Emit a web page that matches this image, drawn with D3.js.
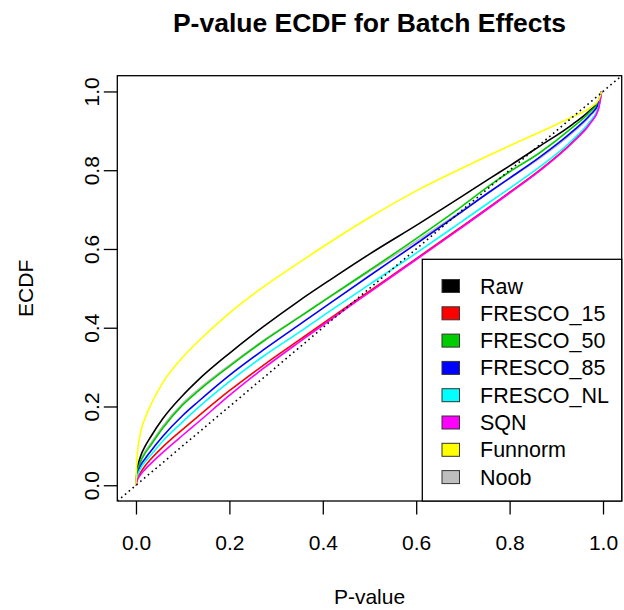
<!DOCTYPE html>
<html>
<head>
<meta charset="utf-8">
<script src="https://cdn.jsdelivr.net/npm/d3@7"></script>
<style>
  html, body { margin: 0; padding: 0; background: #ffffff; }
  svg { display: block; }
  text { font-family: "Liberation Sans", Arial, Helvetica, sans-serif; fill: #000; }
</style>
</head>
<body>
<div id="chart"></div>
<script>
// ---- data ----
const pValues = [0, 0.002, 0.01, 0.02, 0.03, 0.058, 0.1, 0.133, 0.2, 0.272, 0.35, 0.415, 0.5, 0.607, 0.692, 0.756, 0.8, 0.863, 0.934, 0.972, 0.99, 0.997];

const seriesNames = ["Raw", "FRESCO_15", "FRESCO_50", "FRESCO_85", "FRESCO_NL", "SQN", "Funnorm", "Noob"];
const seriesColors = ["#000000", "#FF0000", "#00CD00", "#0000FF", "#00FFFF", "#FF00FF", "#FFFF00", "#BEBEBE"];

const rawECDF      = [0, 0.035, 0.074, 0.100, 0.120, 0.170, 0.228, 0.267, 0.335, 0.402, 0.469, 0.521, 0.587, 0.665, 0.729, 0.778, 0.811, 0.860, 0.916, 0.952, 0.976, 1.0];
const fresco15ECDF = [0, 0.012, 0.032, 0.050, 0.064, 0.098, 0.142, 0.175, 0.240, 0.304, 0.369, 0.423, 0.493, 0.581, 0.652, 0.706, 0.744, 0.799, 0.871, 0.920, 0.956, 1.0];
const fresco50ECDF = [0, 0.026, 0.060, 0.082, 0.099, 0.146, 0.204, 0.239, 0.302, 0.365, 0.427, 0.479, 0.546, 0.632, 0.703, 0.760, 0.796, 0.843, 0.908, 0.948, 0.974, 1.0];
const fresco85ECDF = [0, 0.022, 0.050, 0.068, 0.084, 0.125, 0.177, 0.212, 0.279, 0.343, 0.408, 0.462, 0.532, 0.619, 0.690, 0.744, 0.780, 0.832, 0.898, 0.940, 0.968, 1.0];
const frescoNLECDF = [0, 0.018, 0.043, 0.060, 0.074, 0.113, 0.161, 0.197, 0.263, 0.327, 0.389, 0.442, 0.510, 0.595, 0.665, 0.718, 0.754, 0.807, 0.876, 0.924, 0.958, 1.0];
const sqnECDF      = [0, 0.010, 0.027, 0.041, 0.053, 0.084, 0.127, 0.160, 0.228, 0.296, 0.364, 0.419, 0.490, 0.579, 0.650, 0.704, 0.742, 0.797, 0.869, 0.918, 0.954, 1.0];
const funnormECDF  = [0, 0.065, 0.135, 0.172, 0.200, 0.262, 0.325, 0.365, 0.437, 0.503, 0.566, 0.617, 0.680, 0.752, 0.802, 0.838, 0.862, 0.896, 0.935, 0.958, 0.978, 1.0];
const noobECDF     = [0, 0.030, 0.064, 0.087, 0.104, 0.151, 0.208, 0.243, 0.305, 0.367, 0.428, 0.478, 0.543, 0.625, 0.692, 0.744, 0.779, 0.829, 0.894, 0.937, 0.966, 1.0];

const seriesValues = [rawECDF, fresco15ECDF, fresco50ECDF, fresco85ECDF, frescoNLECDF, sqnECDF, funnormECDF, noobECDF];
const drawOrder = [7, 0, 1, 2, 3, 4, 5, 6];

const xTicks = [0, 0.2, 0.4, 0.6, 0.8, 1.0];
const yTicks = [0, 0.2, 0.4, 0.6, 0.8, 1.0];

const titleText = "P-value ECDF for Batch Effects";
const xLabel = "P-value";
const yLabel = "ECDF";

// ---- layout ----
const W = 624, H = 610;
const plot = { left: 117.3, right: 621.7, top: 75.7, bottom: 501 };
const FS = 21;

const svg = d3.select("#chart").append("svg")
  .attr("width", W).attr("height", H)
  .style("background", "#fff");

const x = d3.scaleLinear().domain([-0.04, 1.04]).range([plot.left, plot.right]);
const y = d3.scaleLinear().domain([-0.04, 1.04]).range([plot.bottom, plot.top]);

svg.append("clipPath").attr("id", "clip")
  .append("rect")
  .attr("x", plot.left).attr("y", plot.top)
  .attr("width", plot.right - plot.left).attr("height", plot.bottom - plot.top);

const line = d3.line()
  .x(d => x(d[0]))
  .y(d => y(d[1]))
  .curve(d3.curveMonotoneX);

const g = svg.append("g").attr("clip-path", "url(#clip)");

drawOrder.forEach(i => {
  const pts = pValues.map((p, k) => [p, seriesValues[i][k]]);
  g.append("path")
    .datum(pts)
    .attr("d", line)
    .attr("fill", "none")
    .attr("stroke", seriesColors[i])
    .attr("stroke-width", 1.6);
});

// diagonal reference (abline 0,1) dotted
g.append("line")
  .attr("x1", x(-0.04)).attr("y1", y(-0.04))
  .attr("x2", x(1.04)).attr("y2", y(1.04))
  .attr("stroke", "#000")
  .attr("stroke-width", 1.6)
  .attr("stroke-dasharray", "1.6,3.4");

// box
svg.append("rect")
  .attr("x", plot.left).attr("y", plot.top)
  .attr("width", plot.right - plot.left).attr("height", plot.bottom - plot.top)
  .attr("fill", "none").attr("stroke", "#000").attr("stroke-width", 1.3);

// axes
const fmt = d3.format(".1f");
const xAxis = svg.append("g")
  .attr("transform", `translate(0,${plot.bottom})`)
  .call(d3.axisBottom(x).tickValues(xTicks).tickFormat(fmt).tickSize(13.5).tickPadding(21));
xAxis.select(".domain").remove();
xAxis.selectAll(".tick line").attr("stroke", "#000").attr("stroke-width", 1.3);
xAxis.selectAll(".tick text")
  .attr("font-size", FS)
  .attr("font-family", "Liberation Sans, Arial, sans-serif")
  .attr("fill", "#000");

const yAxis = svg.append("g")
  .attr("transform", `translate(${plot.left},0)`)
  .call(d3.axisLeft(y).tickValues(yTicks).tickFormat(fmt).tickSize(13.5));
yAxis.select(".domain").remove();
yAxis.selectAll(".tick line").attr("stroke", "#000").attr("stroke-width", 1.3);
yAxis.selectAll(".tick text")
  .attr("font-size", FS)
  .attr("font-family", "Liberation Sans, Arial, sans-serif")
  .attr("fill", "#000")
  .attr("text-anchor", "middle")
  .attr("x", 0)
  .attr("y", -18)
  .attr("dy", 0)
  .attr("transform", "rotate(-90)");

// title and labels
const cx = (plot.left + plot.right) / 2;
svg.append("text")
  .attr("x", cx).attr("y", 32)
  .attr("text-anchor", "middle")
  .attr("font-size", 26.5)
  .attr("font-weight", "bold")
  .text(titleText);

svg.append("text")
  .attr("x", cx).attr("y", 604)
  .attr("text-anchor", "middle")
  .attr("font-size", FS)
  .text(xLabel);

svg.append("text")
  .attr("transform", `translate(33,${(plot.top + plot.bottom) / 2}) rotate(-90)`)
  .attr("text-anchor", "middle")
  .attr("font-size", FS)
  .text(yLabel);

// legend
const leg = { left: 422.3, top: 259.3, right: plot.right, bottom: plot.bottom };
svg.append("rect")
  .attr("x", leg.left).attr("y", leg.top)
  .attr("width", leg.right - leg.left).attr("height", leg.bottom - leg.top)
  .attr("fill", "#fff").attr("stroke", "#000").attr("stroke-width", 1.3);

const legY = d3.scalePoint().domain(seriesNames).range([286, 286 + 27.3 * 7]);
seriesNames.forEach((name, i) => {
  const cy = legY(name);
  svg.append("rect")
    .attr("x", 442).attr("y", cy - 6.5)
    .attr("width", 17.5).attr("height", 13)
    .attr("fill", seriesColors[i])
    .attr("stroke", "#333").attr("stroke-width", 1);
  svg.append("text")
    .attr("x", 480).attr("y", cy + 7.5)
    .attr("font-size", 21.5)
    .text(name);
});
</script>
</body>
</html>
